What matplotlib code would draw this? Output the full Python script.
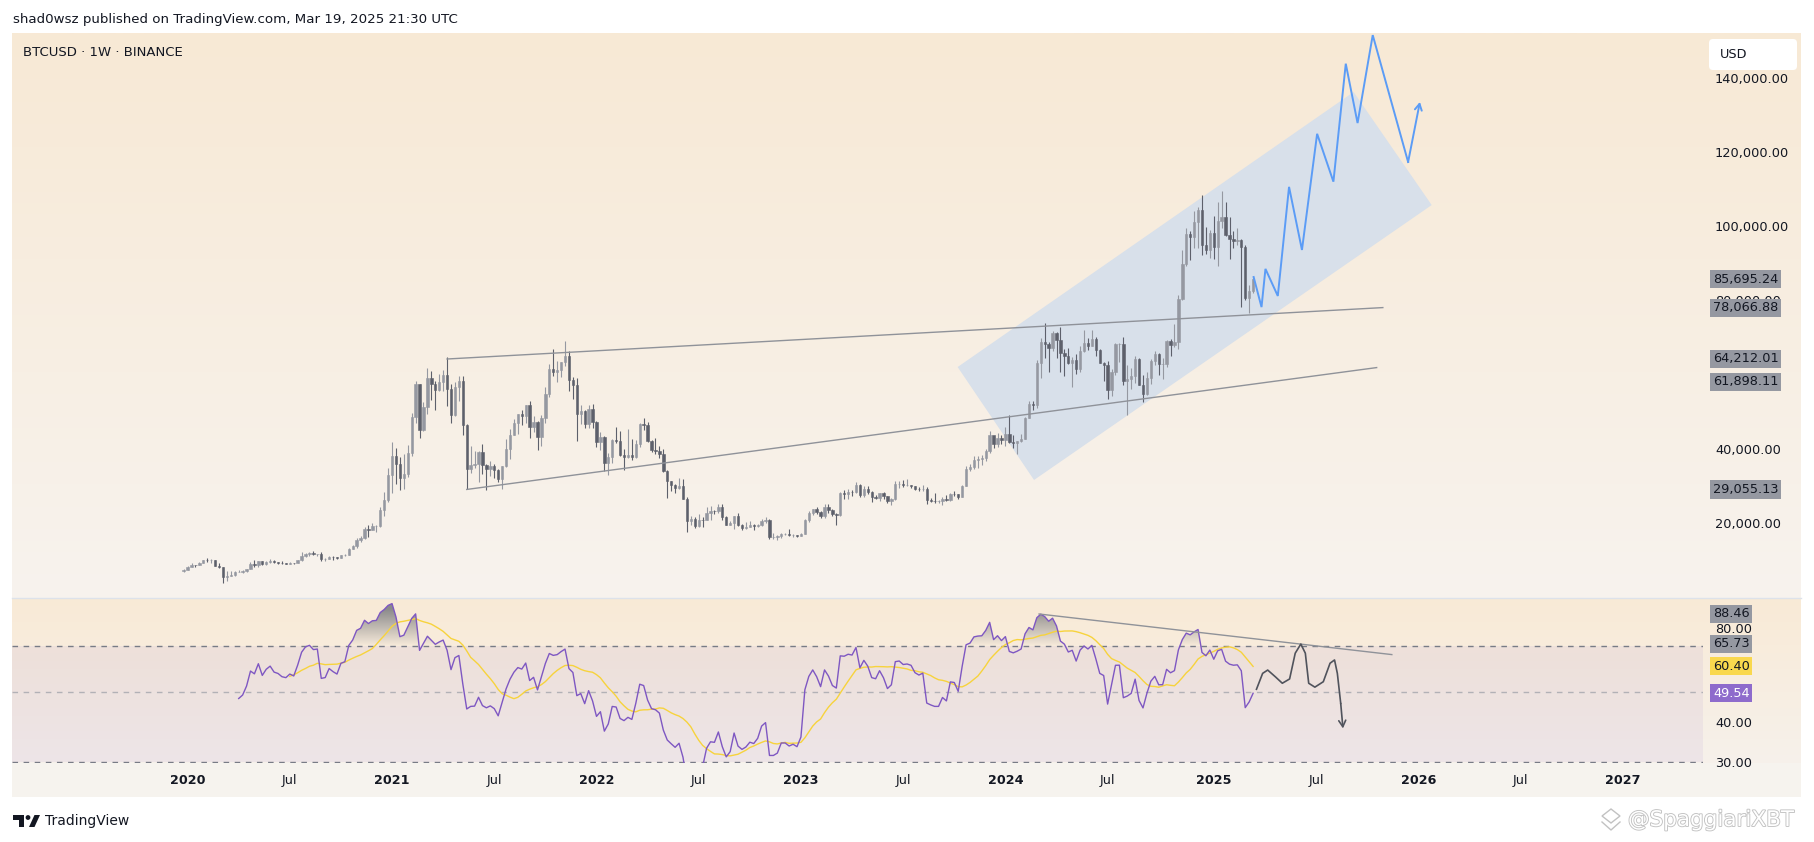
import matplotlib
matplotlib.use("Agg")
import matplotlib.pyplot as plt
import matplotlib.dates as mdates
import matplotlib.patheffects as pe
import matplotlib.path as mpath
from matplotlib.patches import Polygon, Rectangle, FancyBboxPatch, Circle
from matplotlib.ticker import FuncFormatter, NullLocator, NullFormatter
from matplotlib.colors import to_rgb
from datetime import datetime, timedelta
import numpy as np
import pandas as pd

W, H, DPI = 1814, 842, 100

# weekly candles BINANCE:BTCUSD, first bar week of 2019-12-30, values in thousand USD
FIRST_BAR = "2019-12-30"
first_open = 6.95
closes = [
    7.35,
    # 2020
    8.19, 8.70, 8.60, 9.33, 10.15, 9.91, 9.96, 8.53,
    8.04, 5.36, 5.82, 5.88, 6.78, 6.91, 7.12, 7.70, 8.90,
    8.72, 9.67, 8.90, 9.45, 9.75, 9.38, 9.30, 9.12, 9.07,
    9.30, 9.21, 9.93, 11.07, 11.68, 11.86, 11.65, 11.71, 10.28,
    10.33, 10.93, 10.78, 10.67, 11.38, 11.50, 13.03, 13.76,
    15.48, 15.96, 18.41, 18.18, 19.15, 19.28, 23.47, 26.28, 33.00,
    # 2021
    38.15, 35.83, 32.26, 33.10, 38.90, 48.58, 57.40, 45.10,
    51.20, 59.00, 57.35, 55.80, 58.00, 59.80, 56.20, 49.10, 56.60,
    58.20, 46.40, 34.70, 35.70, 35.80, 39.10, 35.60, 34.70, 35.30,
    34.30, 31.80, 35.40, 39.90, 43.80, 47.00, 49.30, 48.80, 51.75,
    46.00, 47.30, 43.20, 48.20, 54.90, 61.50, 60.80, 61.30,
    63.30, 65.00, 58.60, 57.30, 49.40, 50.10, 46.70, 50.80, 47.30,
    # 2022
    41.90, 43.10, 36.30, 37.90, 42.40, 42.20, 38.40, 37.70, 38.40,
    37.80, 41.30, 46.80, 46.40, 42.20, 39.70, 39.40, 38.50,
    34.00, 31.30, 30.30, 29.40, 29.90, 26.60, 20.60, 21.00, 19.30,
    20.85, 20.80, 22.60, 23.30, 23.20, 24.30, 21.50, 19.55, 20.00,
    21.80, 19.40, 18.80, 19.00, 19.40, 19.20, 19.60, 20.60, 20.90,
    16.30, 16.30, 16.45, 17.10, 17.10, 16.75, 16.85, 16.60,
    # 2023
    17.10, 20.90, 22.70, 23.75, 22.95, 21.80, 24.30, 23.55, 22.40,
    22.10, 28.00, 27.95, 28.45, 28.35, 30.30, 27.60, 29.25,
    28.45, 26.90, 26.75, 28.10, 27.20, 25.85, 26.35, 30.45, 30.60,
    30.15, 30.25, 30.10, 29.30, 29.05, 29.30, 26.20, 26.00, 25.85,
    25.85, 26.55, 26.25, 27.95, 27.90, 27.15, 29.95, 34.50, 35.00,
    37.05, 37.35, 37.45, 39.45, 43.80, 41.35, 43.00, 42.30,
    # 2024
    43.90, 41.75, 41.55, 42.00, 42.60, 48.30, 52.10, 51.70, 63.10,
    68.90, 68.30, 67.20, 71.30, 69.40, 65.70, 64.95, 63.10, 63.90,
    61.50, 66.30, 68.50, 67.80, 69.65, 66.60, 63.20, 62.70,
    55.85, 60.80, 68.20, 68.25, 58.20, 58.70, 59.50, 64.20, 57.30,
    54.85, 59.20, 63.60, 65.60, 62.80, 62.85, 69.00, 67.90, 68.80,
    80.40, 89.85, 97.90, 97.20, 101.10, 104.50, 95.00, 93.60, 98.30,
    # 2025
    94.50, 101.30, 102.60, 97.70, 96.50, 96.10, 96.30, 94.30,
    80.70, 82.60, 85.695,
]
highs = [
    7.55,
    # 2020
    8.46, 9.19, 8.75, 9.60, 10.16, 10.50, 10.25, 9.97,
    9.19, 8.18, 6.95, 6.98, 7.20, 7.47, 7.29, 7.72, 9.48,
    10.07, 9.88, 9.90, 9.74, 10.43, 10.00, 9.59, 9.80, 9.31,
    9.48, 9.35, 10.10, 12.10, 11.90, 12.10, 12.47, 11.78, 12.09,
    10.58, 11.18, 10.99, 10.95, 11.49, 11.72, 13.35, 14.09,
    15.96, 16.48, 18.95, 19.42, 19.92, 19.42, 24.30, 28.40, 34.80,
    # 2021
    41.95, 40.10, 37.85, 38.50, 40.95, 49.70, 58.35, 57.50,
    52.60, 61.80, 61.00, 58.40, 60.20, 61.20, 64.85, 57.50, 58.00,
    59.50, 59.60, 46.60, 40.80, 39.50, 39.40, 41.30, 36.00, 36.60,
    35.90, 34.60, 35.50, 42.60, 45.30, 48.10, 49.40, 50.50, 51.90,
    52.90, 48.85, 47.40, 49.20, 56.60, 62.90, 67.00, 63.70,
    63.50, 69.00, 66.30, 59.30, 59.20, 51.90, 50.40, 51.90, 52.10,
    # 2022
    47.60, 44.50, 43.50, 38.90, 42.60, 45.80, 44.80, 40.00, 45.40,
    42.60, 42.30, 47.00, 48.20, 47.20, 42.40, 42.98, 40.80,
    40.00, 34.20, 31.40, 30.60, 32.20, 31.80, 26.90, 21.90, 21.50,
    22.50, 21.60, 24.30, 24.70, 23.60, 25.20, 25.00, 21.80, 20.60,
    21.90, 22.80, 19.70, 20.40, 20.50, 19.70, 19.70, 21.10, 21.50,
    21.00, 17.20, 16.80, 17.40, 17.40, 18.40, 17.00, 16.90,
    # 2023
    17.20, 21.20, 23.30, 23.90, 24.25, 23.20, 25.25, 25.10, 23.90,
    22.60, 28.50, 28.90, 29.20, 28.80, 31.00, 30.50, 30.00,
    29.85, 28.60, 27.60, 28.20, 28.45, 27.40, 26.80, 31.40, 31.30,
    31.50, 31.80, 30.35, 30.10, 29.75, 30.20, 29.70, 26.80, 28.10,
    26.10, 26.90, 27.50, 28.05, 28.60, 27.95, 30.30, 35.30, 35.90,
    38.00, 37.95, 38.40, 40.00, 44.70, 43.40, 44.40, 43.80,
    # 2024
    45.90, 49.00, 43.60, 42.20, 43.90, 48.60, 52.80, 52.90, 64.00,
    70.00, 73.80, 68.90, 71.70, 71.40, 72.80, 66.90, 67.20, 64.70,
    65.50, 67.70, 71.95, 70.00, 71.95, 70.20, 66.90, 63.40,
    63.80, 61.40, 68.40, 68.50, 70.10, 62.70, 61.80, 65.00, 64.50,
    59.80, 60.70, 64.10, 66.50, 65.70, 64.50, 69.40, 69.50, 73.60,
    81.50, 93.50, 99.60, 98.70, 104.10, 105.30, 108.35, 99.90, 98.90,
    # 2025
    102.70, 106.40, 109.60, 106.50, 102.50, 98.80, 99.50, 96.50,
    95.00, 84.20, 86.60,
]
lows = [
    6.87,
    # 2020
    7.30, 8.10, 8.24, 8.56, 9.12, 9.60, 9.28, 8.41,
    7.85, 3.78, 4.44, 5.70, 5.86, 6.77, 6.46, 6.75, 7.70,
    8.10, 8.20, 8.70, 8.63, 9.27, 9.20, 9.00, 8.85, 8.94,
    9.05, 9.05, 9.13, 9.90, 10.94, 11.10, 11.36, 11.12, 9.88,
    9.88, 10.21, 10.14, 10.36, 10.53, 11.22, 11.42, 12.94,
    13.20, 14.80, 15.79, 16.20, 18.10, 17.60, 19.00, 21.80, 25.80,
    # 2021
    28.10, 30.40, 28.85, 29.25, 32.30, 38.00, 47.00, 43.00,
    44.90, 49.30, 53.20, 50.40, 55.50, 55.50, 51.50, 47.00, 48.80,
    53.00, 43.80, 29.05, 33.40, 34.80, 31.00, 33.30, 28.90, 32.70,
    32.10, 31.10, 29.30, 35.20, 37.30, 43.70, 43.90, 46.40, 46.90,
    42.80, 44.60, 39.60, 40.70, 46.90, 53.90, 59.60, 58.00,
    59.40, 62.30, 55.60, 53.30, 42.00, 46.80, 45.50, 45.60, 45.70,
    # 2022
    40.50, 39.65, 34.00, 32.90, 36.20, 41.70, 37.95, 34.30, 37.50,
    37.10, 37.60, 40.50, 45.20, 41.90, 39.20, 38.50, 37.60,
    33.70, 26.70, 28.60, 28.00, 29.30, 26.50, 17.60, 19.60, 18.60,
    19.00, 18.90, 20.75, 20.70, 22.40, 22.70, 20.80, 19.50, 19.50,
    18.50, 19.30, 18.10, 18.50, 18.95, 18.20, 18.90, 19.20, 20.00,
    15.60, 15.80, 15.50, 16.00, 16.70, 16.50, 16.30, 16.30,
    # 2023
    16.50, 17.00, 20.40, 22.30, 22.50, 21.35, 21.35, 22.80, 21.90,
    19.55, 21.90, 26.60, 26.50, 27.20, 28.20, 27.10, 26.90,
    27.70, 25.80, 26.40, 25.90, 26.50, 25.35, 24.80, 26.25, 29.50,
    29.70, 29.95, 29.50, 28.85, 28.60, 28.70, 25.20, 25.75, 25.35,
    25.40, 24.90, 26.00, 26.00, 27.20, 26.55, 26.95, 29.90, 33.90,
    34.50, 34.80, 35.60, 36.70, 39.00, 40.20, 40.55, 41.40,
    # 2024
    40.75, 41.50, 40.30, 38.50, 41.80, 42.55, 48.35, 50.50, 50.90,
    59.00, 64.50, 60.80, 66.40, 64.50, 60.70, 59.60, 62.80, 56.55,
    60.20, 60.60, 66.10, 66.70, 67.60, 65.10, 63.00, 58.40,
    53.50, 54.30, 59.90, 63.40, 57.15, 49.00, 56.10, 57.80, 57.20,
    52.55, 54.60, 57.50, 62.70, 59.80, 58.90, 62.00, 65.10, 67.50,
    66.80, 80.20, 89.40, 90.80, 94.20, 94.20, 92.20, 92.50, 91.50,
    # 2025
    91.20, 89.30, 99.50, 97.30, 91.20, 94.10, 94.90, 78.20,
    80.00, 76.60, 81.90,
]

# drawings on the price pane
upper_line_dates = ["2021-04-12", "2025-11-03"]
upper_line_prices = [64212.01, 78066.88]
lower_line_dates = ["2021-05-17", "2025-10-23"]
lower_line_prices = [29055.13, 61898.11]
channel_dates = ["2023-10-08", "2025-09-12", "2026-01-29", "2024-02-21"]
channel_prices = [62050, 136170, 105700, 31600]
path_dates = ["2025-03-18", "2025-04-01", "2025-04-08", "2025-04-30", "2025-05-20",
              "2025-06-12", "2025-07-09", "2025-08-07", "2025-08-29", "2025-09-19",
              "2025-10-16", "2025-12-18", "2026-01-08"]
path_prices = [86300, 78200, 88500, 81200, 110600, 93600, 124900, 112000,
               143800, 127800, 151500, 117300, 133500]

# drawings on the RSI pane
rsi_line_dates = ["2024-03-01", "2025-11-19"]
rsi_line_values = [88.46, 65.73]
rsi_path_dates = ["2025-03-23", "2025-04-03", "2025-04-12", "2025-04-26", "2025-05-08",
                  "2025-05-21", "2025-05-31", "2025-06-10", "2025-06-18", "2025-06-24",
                  "2025-07-05", "2025-07-20", "2025-08-01", "2025-08-09", "2025-08-14",
                  "2025-08-20", "2025-08-24"]
rsi_path_values = [51.0, 57.3, 58.7, 55.8, 53.3, 55.0, 66.4, 71.0, 66.4, 53.3,
                   51.8, 53.9, 61.7, 63.2, 57.3, 46.0, 38.3]

# axis ticks that stay visible, and axis tags
price_ticks = [20000, 40000, 80000, 100000, 120000, 140000]
rsi_ticks = [30, 40, 80]
price_tag_text = ["85,695.24", "78,066.88", "64,212.01", "61,898.11", "29,055.13"]
price_tag_values = [85695.24, 78066.88, 64212.01, 61898.11, 29055.13]
rsi_tag_text = ["88.46", "65.73", "60.40", "49.54"]
rsi_tag_values = [88.46, 65.73, 60.40, 49.54]

time_labels = ["2020", "Jul", "2021", "Jul", "2022", "Jul", "2023", "Jul",
               "2024", "Jul", "2025", "Jul", "2026", "Jul", "2027"]

if not (len(closes) == len(highs) == len(lows)):
    raise ValueError("lengths %d %d %d" % (len(closes), len(highs), len(lows)))

UP = "#9598a1"
DOWN = "#5d606b"
TXT = "#131722"
BLUE = "#5b9cf6"
LINE_GRAY = "#8f9299"


def first_monday(y, m):
    d = datetime(y, m, 1)
    return d + timedelta(days=(7 - d.weekday()) % 7)


def to_num(ds):
    return mdates.date2num(pd.to_datetime(ds).to_pydatetime())


def rsi_wilder(c, n=14):
    d = np.diff(c)
    up = np.clip(d, 0, None)
    dn = np.clip(-d, 0, None)
    out = np.full(len(c), np.nan)
    au, ad = up[:n].mean(), dn[:n].mean()
    out[n] = 100 - 100 / (1 + au / ad)
    for i in range(n, len(d)):
        au = (au * (n - 1) + up[i]) / n
        ad = (ad * (n - 1) + dn[i]) / n
        out[i + 1] = 100.0 if ad == 0 else 100 - 100 / (1 + au / ad)
    return out


def vgrad(ax, x0, x1, y0, y1, c_top, c_bot, z=0):
    t = np.linspace(0, 1, 256)[:, None, None]
    img = np.array(to_rgb(c_top)) * (1 - t) + np.array(to_rgb(c_bot)) * t
    ax.imshow(img, extent=(x0, x1, y1, y0), aspect="auto",
              interpolation="bilinear", zorder=z)


def tag(ax, value, text, face, fg, dy=0.0):
    ax.annotate(text, xy=(1, value), xycoords=("axes fraction", "data"),
                xytext=(7.2, -dy * 0.72), textcoords="offset points",
                ha="left", va="center", fontsize=9.3, color=fg,
                bbox=dict(boxstyle="square,pad=0.2", fc=face, ec="none"),
                annotation_clip=False, zorder=6)


c = np.array(closes) * 1000
h = np.array(highs) * 1000
l = np.array(lows) * 1000
o = np.r_[first_open * 1000, c[:-1]]
dates = pd.date_range(FIRST_BAR, periods=len(c), freq="7D")
x = mdates.date2num(dates.to_pydatetime())

rsi = rsi_wilder(c)
rsi_ma = pd.Series(rsi).rolling(14).mean().to_numpy()

fig = plt.figure(figsize=(W / DPI, H / DPI), dpi=DPI, facecolor="white")

# background in pixel coordinates
bg = fig.add_axes([0, 0, 1, 1], zorder=-5)
bg.set_axis_off()
vgrad(bg, 12, 1801, 33, 598, "#f8e9d5", "#f7f3ee")
vgrad(bg, 12, 1801, 598, 763, "#f9ead6", "#f6f1eb")
bg.add_patch(Rectangle((12, 763), 1789, 34, fc="#f6f3ee", ec="none"))
bg.plot([12, 1801], [598, 598], color="#dde2ea", lw=1)
bg.set_xlim(0, W)
bg.set_ylim(H, 0)

base = mdates.date2num(datetime(2020, 1, 1))
xlim = (base - 307.6, base + 2703.0)

ax = fig.add_axes([12 / W, 1 - 598 / H, 1691 / W, 565 / H])
ax2 = fig.add_axes([12 / W, 1 - 763 / H, 1691 / W, 165 / H], sharex=ax)
for a in (ax, ax2):
    a.patch.set_alpha(0)
    for s in a.spines.values():
        s.set_visible(False)

# channel and trend lines
ax.add_patch(Polygon(np.column_stack([to_num(channel_dates), channel_prices]),
                     closed=True, fc="#d8e0ea", ec="none", zorder=1))
ax.plot(to_num(upper_line_dates), upper_line_prices, color=LINE_GRAY, lw=1, zorder=4)
ax.plot(to_num(lower_line_dates), lower_line_prices, color=LINE_GRAY, lw=1, zorder=4)

# candles
up = c >= o
for mask, col in ((up, UP), (~up, DOWN)):
    ax.vlines(x[mask], l[mask], h[mask], color=col, lw=0.8, zorder=3)
    ax.bar(x[mask], np.abs(c - o)[mask], bottom=np.minimum(o, c)[mask], width=4.2,
           color=col, edgecolor=col, linewidth=0.4, zorder=3)

# projected path
px = to_num(path_dates)
ax.plot(px[:-1], path_prices[:-1], color=BLUE, lw=1.4, zorder=5, solid_joinstyle="miter")
ax.annotate("", xy=(px[-1], path_prices[-1]), xytext=(px[-2], path_prices[-2]),
            arrowprops=dict(arrowstyle="->,head_length=0.45,head_width=0.25",
                            color=BLUE, lw=1.4, shrinkA=0, shrinkB=0), zorder=5)

ax.set_xlim(*xlim)
ax.set_ylim(-200, 152070)
ax.yaxis.tick_right()
ax.set_yticks(price_ticks)
ax.yaxis.set_major_formatter(FuncFormatter(lambda v, p: f"{v:,.2f}"))
ax.tick_params(axis="y", length=0, pad=8.6, labelsize=9.3, labelcolor=TXT)
ax.tick_params(axis="x", length=0, labelbottom=False)

for txt, val in zip(price_tag_text, price_tag_values):
    tag(ax, val, txt, "#9598a1", TXT, dy=14.0 if txt == "61,898.11" else 0)

# RSI pane
ax2.set_yscale("log")
ax2.set_ylim(29.74, 99.44)
ax2.set_autoscale_on(False)
ax2.axhspan(30, 70, color="#7e57c2", alpha=0.075, lw=0, zorder=0)
ax2.axhline(70, color="#787b86", lw=1, ls=(0, (4, 4)), zorder=1)
ax2.axhline(50, color="#9a9da5", lw=1, ls=(0, (4, 4)), alpha=0.7, zorder=1)
ax2.axhline(30, color="#787b86", lw=1, ls=(0, (4, 4)), zorder=1)

fb = ax2.fill_between(x, rsi, 70, where=rsi > 70, interpolate=True,
                      facecolor="none", edgecolor="none")
clip = mpath.Path.make_compound_path(*fb.get_paths())
lo, hi = np.log(29.74), np.log(99.44)
f70 = (np.log(70) - lo) / (hi - lo)
f92 = (np.log(92) - lo) / (hi - lo)
yy = np.linspace(1, 0, 300)[:, None]
alpha = np.clip((yy - f70) / (f92 - f70), 0, 1) * 0.8
grad = np.zeros((300, 1, 4))
grad[..., :3] = to_rgb("#6f7278")
grad[..., 3] = alpha
im = ax2.imshow(grad, extent=(0, 1, 0, 1), transform=ax2.transAxes, aspect="auto",
                interpolation="bilinear", zorder=2)
im.set_clip_path(clip, transform=ax2.transData)

ax2.plot(x, rsi_ma, color="#f7d33c", lw=1.0, zorder=3)
ax2.plot(x, rsi, color="#7e57c2", lw=1.0, zorder=4)
ax2.plot(to_num(rsi_line_dates), rsi_line_values, color=LINE_GRAY, lw=1, zorder=4)
rx = to_num(rsi_path_dates)
ax2.plot(rx[:-1], rsi_path_values[:-1], color="#50535c", lw=1.2, zorder=5)
ax2.annotate("", xy=(rx[-1], rsi_path_values[-1]), xytext=(rx[-2], rsi_path_values[-2]),
             arrowprops=dict(arrowstyle="->,head_length=0.45,head_width=0.25",
                             color="#50535c", lw=1.2, shrinkA=0, shrinkB=0), zorder=5)

ax2.set_xlim(*xlim)
ax2.set_ylim(29.74, 99.44)
ax2.yaxis.tick_right()
ax2.set_yticks(rsi_ticks)
ax2.yaxis.set_major_formatter(FuncFormatter(lambda v, p: f"{v:.2f}"))
ax2.yaxis.set_minor_locator(NullLocator())
ax2.yaxis.set_minor_formatter(NullFormatter())
ax2.tick_params(axis="y", length=0, pad=8.6, labelsize=9.3, labelcolor=TXT)

tick_pos = []
for yr in range(2020, 2028):
    tick_pos.append(first_monday(yr, 1))
    if yr < 2027:
        tick_pos.append(first_monday(yr, 7))
ax2.set_xticks(mdates.date2num(tick_pos))
ax2.set_xticklabels(time_labels)
ax2.tick_params(axis="x", length=0, pad=8.0, labelsize=9.2, labelcolor=TXT)
for lbl in ax2.get_xticklabels():
    if lbl.get_text().isdigit():
        lbl.set_fontweight("bold")

rsi_faces = ["#9598a1", "#9598a1", "#f9d84e", "#8e6bcc"]
rsi_fg = [TXT, TXT, TXT, "white"]
rsi_dy = [0, -10.6, 0, 0]
for txt, val, fc, fg, dy in zip(rsi_tag_text, rsi_tag_values, rsi_faces, rsi_fg, rsi_dy):
    tag(ax2, val, txt, fc, fg, dy=dy)

# overlay: header, legend text, footer
top = fig.add_axes([0, 0, 1, 1], zorder=10)
top.set_axis_off()
top.patch.set_alpha(0)
top.set_xlim(0, W)
top.set_ylim(H, 0)
top.text(13, 20, "shad0wsz published on TradingView.com, Mar 19, 2025 21:30 UTC",
         ha="left", va="center", fontsize=9.6, color=TXT)
top.text(23, 53, "BTCUSD \u00b7 1W \u00b7 BINANCE", ha="left", va="center",
         fontsize=9.5, color=TXT)
top.add_patch(FancyBboxPatch((1709, 39), 88, 31,
                             boxstyle="round,pad=0,rounding_size=4",
                             fc="white", ec="none"))
top.text(1720, 55, "USD", ha="left", va="center", fontsize=9.3, color=TXT)

# TradingView logo and name
top.add_patch(Rectangle((13, 815), 11, 4.5, fc=TXT, ec="none"))
top.add_patch(Rectangle((18.5, 815), 5.5, 12, fc=TXT, ec="none"))
top.add_patch(Circle((28, 817.5), 2.4, fc=TXT, ec="none"))
top.add_patch(Polygon([(29, 827), (34.5, 827), (40, 815), (34.5, 815)], fc=TXT, ec="none"))
top.text(45, 821, "TradingView", ha="left", va="center", fontsize=10, color=TXT)

# watermark
wm_stroke = [pe.withStroke(linewidth=1.3, foreground="#c2c2c2")]
top.add_patch(Polygon([(1602, 816), (1611, 809), (1620, 816), (1611, 823)],
                      closed=True, fc="none", ec="#c2c2c2", lw=1))
top.plot([1602, 1611, 1620], [822, 830, 822], color="#c2c2c2", lw=1)
top.text(1628, 820, "@SpaggiariXBT", ha="left", va="center", fontsize=15.5,
         color="white", path_effects=wm_stroke)

fig.savefig("out.png", dpi=DPI, facecolor="white")
